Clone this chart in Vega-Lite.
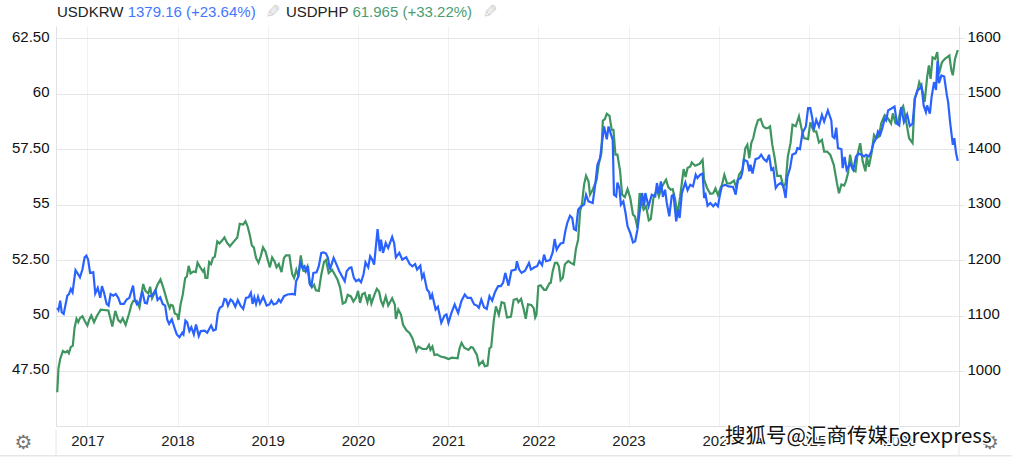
{"$schema":"https://vega.github.io/schema/vega-lite/v6.json","width":903,"height":400,"autosize":{"type":"none"},"padding":{"left":56,"top":26,"right":53,"bottom":32},"background":"white","config":{"view":{"stroke":null},"text":{"font":"Liberation Sans"},"axis":{"labelFont":"Liberation Sans","labelFontSize":15,"titleFontSize":14}},
"datasets":{"krw":[
{"date":"2016-09-01","value":1114},{"date":"2016-09-06","value":1110},{"date":"2016-09-13","value":1127},{"date":"2016-09-19","value":1106},{"date":"2016-09-27","value":1103},{"date":"2016-10-12","value":1136},{"date":"2016-10-19","value":1139},{"date":"2016-10-26","value":1148},{"date":"2016-11-02","value":1142},{"date":"2016-11-14","value":1182},{"date":"2016-11-24","value":1175},{"date":"2016-12-02","value":1169},{"date":"2016-12-12","value":1183},{"date":"2016-12-21","value":1205},{"date":"2016-12-28","value":1208},{"date":"2017-01-04","value":1201},{"date":"2017-01-12","value":1177},{"date":"2017-01-25","value":1178},{"date":"2017-02-02","value":1140},{"date":"2017-02-12","value":1150},{"date":"2017-02-22","value":1132},{"date":"2017-03-01","value":1153},{"date":"2017-03-09","value":1142},{"date":"2017-03-20","value":1121},{"date":"2017-03-28","value":1118},{"date":"2017-04-05","value":1139},{"date":"2017-04-16","value":1136},{"date":"2017-04-26","value":1139},{"date":"2017-05-06","value":1132},{"date":"2017-05-15","value":1121},{"date":"2017-05-29","value":1121},{"date":"2017-06-09","value":1129},{"date":"2017-06-20","value":1132},{"date":"2017-07-05","value":1154},{"date":"2017-07-12","value":1129},{"date":"2017-07-21","value":1120},{"date":"2017-07-31","value":1124},{"date":"2017-08-11","value":1144},{"date":"2017-08-22","value":1123},{"date":"2017-08-30","value":1122},{"date":"2017-09-06","value":1135},{"date":"2017-09-20","value":1136},{"date":"2017-10-04","value":1146},{"date":"2017-10-12","value":1128},{"date":"2017-10-23","value":1133},{"date":"2017-11-02","value":1121},{"date":"2017-11-12","value":1118},{"date":"2017-11-20","value":1093},{"date":"2017-11-28","value":1085},{"date":"2017-12-09","value":1093},{"date":"2017-12-19","value":1079},{"date":"2017-12-29","value":1066},{"date":"2018-01-09","value":1061},{"date":"2018-01-20","value":1069},{"date":"2018-01-25","value":1066},{"date":"2018-02-02","value":1091},{"date":"2018-02-09","value":1088},{"date":"2018-02-18","value":1072},{"date":"2018-02-26","value":1079},{"date":"2018-03-08","value":1066},{"date":"2018-03-17","value":1084},{"date":"2018-03-28","value":1063},{"date":"2018-04-05","value":1072},{"date":"2018-04-21","value":1073},{"date":"2018-05-01","value":1069},{"date":"2018-05-17","value":1082},{"date":"2018-05-26","value":1073},{"date":"2018-06-05","value":1075},{"date":"2018-06-13","value":1104},{"date":"2018-06-21","value":1114},{"date":"2018-07-02","value":1117},{"date":"2018-07-10","value":1130},{"date":"2018-07-17","value":1129},{"date":"2018-07-24","value":1118},{"date":"2018-08-04","value":1129},{"date":"2018-08-12","value":1126},{"date":"2018-08-23","value":1116},{"date":"2018-09-02","value":1128},{"date":"2018-09-13","value":1118},{"date":"2018-09-24","value":1112},{"date":"2018-10-05","value":1132},{"date":"2018-10-16","value":1133},{"date":"2018-10-25","value":1141},{"date":"2018-11-01","value":1121},{"date":"2018-11-08","value":1133},{"date":"2018-11-15","value":1121},{"date":"2018-11-23","value":1134},{"date":"2018-12-01","value":1122},{"date":"2018-12-14","value":1134},{"date":"2018-12-28","value":1118},{"date":"2019-01-08","value":1120},{"date":"2019-01-16","value":1127},{"date":"2019-01-25","value":1120},{"date":"2019-02-06","value":1122},{"date":"2019-02-15","value":1129},{"date":"2019-02-23","value":1124},{"date":"2019-03-08","value":1135},{"date":"2019-03-22","value":1138},{"date":"2019-04-12","value":1139},{"date":"2019-04-21","value":1138},{"date":"2019-04-26","value":1162},{"date":"2019-05-04","value":1169},{"date":"2019-05-13","value":1195},{"date":"2019-05-22","value":1186},{"date":"2019-05-30","value":1189},{"date":"2019-06-05","value":1180},{"date":"2019-06-13","value":1189},{"date":"2019-06-21","value":1156},{"date":"2019-06-27","value":1153},{"date":"2019-07-05","value":1177},{"date":"2019-07-18","value":1178},{"date":"2019-07-27","value":1189},{"date":"2019-08-06","value":1213},{"date":"2019-08-16","value":1214},{"date":"2019-08-25","value":1212},{"date":"2019-09-02","value":1204},{"date":"2019-09-10","value":1183},{"date":"2019-09-25","value":1204},{"date":"2019-10-07","value":1192},{"date":"2019-10-18","value":1180},{"date":"2019-10-29","value":1171},{"date":"2019-11-09","value":1162},{"date":"2019-11-17","value":1180},{"date":"2019-11-28","value":1186},{"date":"2019-12-06","value":1187},{"date":"2019-12-16","value":1168},{"date":"2019-12-25","value":1162},{"date":"2020-01-05","value":1165},{"date":"2020-01-14","value":1160},{"date":"2020-01-24","value":1174},{"date":"2020-02-01","value":1196},{"date":"2020-02-12","value":1187},{"date":"2020-02-20","value":1207},{"date":"2020-02-28","value":1201},{"date":"2020-03-07","value":1192},{"date":"2020-03-21","value":1256},{"date":"2020-03-30","value":1216},{"date":"2020-04-04","value":1237},{"date":"2020-04-12","value":1213},{"date":"2020-04-23","value":1231},{"date":"2020-05-03","value":1222},{"date":"2020-05-19","value":1242},{"date":"2020-05-27","value":1231},{"date":"2020-06-03","value":1205},{"date":"2020-06-17","value":1213},{"date":"2020-06-29","value":1201},{"date":"2020-07-15","value":1205},{"date":"2020-07-29","value":1193},{"date":"2020-08-09","value":1189},{"date":"2020-08-20","value":1193},{"date":"2020-08-28","value":1183},{"date":"2020-09-10","value":1190},{"date":"2020-09-17","value":1168},{"date":"2020-09-24","value":1175},{"date":"2020-10-07","value":1147},{"date":"2020-10-16","value":1142},{"date":"2020-10-21","value":1129},{"date":"2020-10-28","value":1138},{"date":"2020-11-11","value":1111},{"date":"2020-11-20","value":1116},{"date":"2020-12-04","value":1087},{"date":"2020-12-17","value":1100},{"date":"2020-12-25","value":1102},{"date":"2021-01-02","value":1087},{"date":"2021-01-14","value":1105},{"date":"2021-01-27","value":1120},{"date":"2021-02-10","value":1105},{"date":"2021-02-24","value":1127},{"date":"2021-03-09","value":1138},{"date":"2021-03-20","value":1132},{"date":"2021-04-03","value":1132},{"date":"2021-04-16","value":1120},{"date":"2021-04-27","value":1118},{"date":"2021-05-05","value":1114},{"date":"2021-05-15","value":1129},{"date":"2021-05-26","value":1115},{"date":"2021-06-06","value":1112},{"date":"2021-06-17","value":1135},{"date":"2021-06-28","value":1127},{"date":"2021-07-09","value":1142},{"date":"2021-07-22","value":1153},{"date":"2021-08-02","value":1153},{"date":"2021-08-11","value":1159},{"date":"2021-08-20","value":1177},{"date":"2021-09-02","value":1154},{"date":"2021-09-14","value":1181},{"date":"2021-10-01","value":1183},{"date":"2021-10-06","value":1198},{"date":"2021-10-15","value":1183},{"date":"2021-10-25","value":1177},{"date":"2021-11-08","value":1181},{"date":"2021-11-24","value":1195},{"date":"2021-12-02","value":1183},{"date":"2021-12-16","value":1187},{"date":"2021-12-27","value":1189},{"date":"2022-01-05","value":1198},{"date":"2022-01-16","value":1191},{"date":"2022-01-24","value":1210},{"date":"2022-02-01","value":1198},{"date":"2022-02-17","value":1200},{"date":"2022-02-28","value":1214},{"date":"2022-03-08","value":1238},{"date":"2022-03-16","value":1219},{"date":"2022-03-24","value":1225},{"date":"2022-04-01","value":1230},{"date":"2022-04-12","value":1231},{"date":"2022-04-20","value":1252},{"date":"2022-04-28","value":1267},{"date":"2022-05-09","value":1280},{"date":"2022-05-18","value":1276},{"date":"2022-05-25","value":1256},{"date":"2022-06-02","value":1254},{"date":"2022-06-11","value":1291},{"date":"2022-06-21","value":1296},{"date":"2022-07-05","value":1300},{"date":"2022-07-13","value":1318},{"date":"2022-07-23","value":1306},{"date":"2022-08-09","value":1303},{"date":"2022-08-20","value":1339},{"date":"2022-08-28","value":1372},{"date":"2022-09-08","value":1384},{"date":"2022-09-17","value":1417},{"date":"2022-09-24","value":1441},{"date":"2022-10-05","value":1418},{"date":"2022-10-12","value":1441},{"date":"2022-10-21","value":1428},{"date":"2022-10-29","value":1417},{"date":"2022-11-03","value":1318},{"date":"2022-11-12","value":1315},{"date":"2022-11-17","value":1340},{"date":"2022-11-25","value":1330},{"date":"2022-12-01","value":1300},{"date":"2022-12-11","value":1306},{"date":"2022-12-20","value":1285},{"date":"2022-12-28","value":1261},{"date":"2023-01-08","value":1249},{"date":"2023-01-19","value":1232},{"date":"2023-01-28","value":1234},{"date":"2023-02-06","value":1255},{"date":"2023-02-17","value":1294},{"date":"2023-02-25","value":1321},{"date":"2023-03-05","value":1297},{"date":"2023-03-10","value":1321},{"date":"2023-03-23","value":1297},{"date":"2023-04-05","value":1318},{"date":"2023-04-19","value":1315},{"date":"2023-04-26","value":1339},{"date":"2023-05-04","value":1320},{"date":"2023-05-12","value":1342},{"date":"2023-05-20","value":1314},{"date":"2023-05-29","value":1327},{"date":"2023-06-05","value":1303},{"date":"2023-06-15","value":1279},{"date":"2023-06-25","value":1316},{"date":"2023-07-02","value":1318},{"date":"2023-07-13","value":1270},{"date":"2023-07-21","value":1291},{"date":"2023-07-27","value":1276},{"date":"2023-08-05","value":1321},{"date":"2023-08-19","value":1340},{"date":"2023-08-28","value":1326},{"date":"2023-09-08","value":1336},{"date":"2023-09-19","value":1333},{"date":"2023-09-30","value":1354},{"date":"2023-10-07","value":1348},{"date":"2023-10-18","value":1354},{"date":"2023-10-28","value":1356},{"date":"2023-11-03","value":1312},{"date":"2023-11-09","value":1318},{"date":"2023-11-17","value":1298},{"date":"2023-11-28","value":1303},{"date":"2023-12-10","value":1297},{"date":"2023-12-19","value":1302},{"date":"2023-12-29","value":1297},{"date":"2024-01-05","value":1315},{"date":"2024-01-14","value":1333},{"date":"2024-01-27","value":1336},{"date":"2024-02-10","value":1333},{"date":"2024-02-28","value":1332},{"date":"2024-03-10","value":1318},{"date":"2024-03-18","value":1345},{"date":"2024-03-30","value":1348},{"date":"2024-04-05","value":1357},{"date":"2024-04-12","value":1381},{"date":"2024-04-26","value":1378},{"date":"2024-05-04","value":1360},{"date":"2024-05-09","value":1372},{"date":"2024-05-17","value":1356},{"date":"2024-05-29","value":1382},{"date":"2024-06-11","value":1384},{"date":"2024-06-21","value":1390},{"date":"2024-07-02","value":1382},{"date":"2024-07-13","value":1378},{"date":"2024-07-23","value":1390},{"date":"2024-08-01","value":1363},{"date":"2024-08-09","value":1366},{"date":"2024-08-19","value":1330},{"date":"2024-08-28","value":1336},{"date":"2024-09-08","value":1339},{"date":"2024-09-19","value":1333},{"date":"2024-09-28","value":1312},{"date":"2024-10-05","value":1350},{"date":"2024-10-16","value":1366},{"date":"2024-10-25","value":1390},{"date":"2024-11-08","value":1393},{"date":"2024-11-15","value":1402},{"date":"2024-11-25","value":1400},{"date":"2024-12-05","value":1429},{"date":"2024-12-19","value":1441},{"date":"2024-12-28","value":1474},{"date":"2025-01-06","value":1474},{"date":"2025-01-14","value":1456},{"date":"2025-01-20","value":1435},{"date":"2025-01-30","value":1453},{"date":"2025-02-10","value":1441},{"date":"2025-02-22","value":1462},{"date":"2025-03-03","value":1450},{"date":"2025-03-18","value":1470},{"date":"2025-04-01","value":1452},{"date":"2025-04-06","value":1423},{"date":"2025-04-14","value":1420},{"date":"2025-04-21","value":1439},{"date":"2025-04-28","value":1402},{"date":"2025-05-12","value":1400},{"date":"2025-05-17","value":1366},{"date":"2025-05-25","value":1386},{"date":"2025-06-02","value":1363},{"date":"2025-06-16","value":1374},{"date":"2025-06-29","value":1363},{"date":"2025-07-10","value":1387},{"date":"2025-07-21","value":1392},{"date":"2025-08-01","value":1390},{"date":"2025-08-12","value":1387},{"date":"2025-08-20","value":1390},{"date":"2025-08-31","value":1387},{"date":"2025-09-10","value":1396},{"date":"2025-09-19","value":1411},{"date":"2025-09-30","value":1420},{"date":"2025-10-07","value":1432},{"date":"2025-10-16","value":1426},{"date":"2025-10-24","value":1437},{"date":"2025-11-03","value":1455},{"date":"2025-11-09","value":1452},{"date":"2025-11-17","value":1470},{"date":"2025-11-29","value":1473},{"date":"2025-12-13","value":1477},{"date":"2025-12-23","value":1446},{"date":"2026-01-01","value":1443},{"date":"2026-01-09","value":1476},{"date":"2026-01-20","value":1449},{"date":"2026-02-02","value":1463},{"date":"2026-02-13","value":1442},{"date":"2026-02-24","value":1446},{"date":"2026-03-05","value":1491},{"date":"2026-03-15","value":1506},{"date":"2026-03-25","value":1509},{"date":"2026-04-01","value":1515},{"date":"2026-04-10","value":1479},{"date":"2026-04-19","value":1467},{"date":"2026-04-24","value":1479},{"date":"2026-05-05","value":1464},{"date":"2026-05-12","value":1494},{"date":"2026-05-22","value":1521},{"date":"2026-05-30","value":1507},{"date":"2026-06-05","value":1559},{"date":"2026-06-11","value":1519},{"date":"2026-06-21","value":1533},{"date":"2026-07-02","value":1531},{"date":"2026-07-13","value":1497},{"date":"2026-07-18","value":1485},{"date":"2026-07-26","value":1449},{"date":"2026-08-06","value":1408},{"date":"2026-08-12","value":1420},{"date":"2026-08-19","value":1393},{"date":"2026-08-26","value":1379}],
"php":[
{"date":"2016-09-01","value":46.54},{"date":"2016-09-06","value":47.62},{"date":"2016-09-13","value":48.04},{"date":"2016-09-24","value":48.40},{"date":"2016-10-03","value":48.34},{"date":"2016-10-12","value":48.40},{"date":"2016-10-18","value":48.30},{"date":"2016-10-26","value":48.58},{"date":"2016-11-03","value":48.64},{"date":"2016-11-10","value":49.43},{"date":"2016-11-18","value":49.85},{"date":"2016-11-25","value":49.70},{"date":"2016-12-02","value":49.88},{"date":"2016-12-12","value":49.97},{"date":"2016-12-21","value":49.76},{"date":"2017-01-01","value":49.55},{"date":"2017-01-09","value":49.82},{"date":"2017-01-17","value":50.00},{"date":"2017-01-28","value":49.70},{"date":"2017-02-08","value":49.97},{"date":"2017-02-24","value":50.26},{"date":"2017-03-27","value":50.23},{"date":"2017-04-04","value":49.88},{"date":"2017-04-12","value":49.50},{"date":"2017-04-24","value":50.21},{"date":"2017-05-06","value":49.79},{"date":"2017-05-15","value":49.70},{"date":"2017-05-24","value":49.88},{"date":"2017-06-05","value":49.58},{"date":"2017-06-19","value":50.09},{"date":"2017-06-28","value":50.48},{"date":"2017-07-06","value":50.66},{"date":"2017-07-20","value":50.66},{"date":"2017-07-31","value":50.36},{"date":"2017-08-15","value":51.42},{"date":"2017-08-24","value":51.11},{"date":"2017-09-05","value":50.99},{"date":"2017-09-12","value":51.30},{"date":"2017-09-20","value":50.78},{"date":"2017-10-01","value":51.05},{"date":"2017-10-12","value":51.39},{"date":"2017-10-24","value":51.63},{"date":"2017-11-03","value":51.30},{"date":"2017-11-13","value":50.93},{"date":"2017-11-21","value":50.60},{"date":"2017-11-30","value":50.33},{"date":"2017-12-05","value":50.48},{"date":"2017-12-13","value":50.45},{"date":"2017-12-21","value":50.09},{"date":"2017-12-31","value":50.03},{"date":"2018-01-05","value":49.80},{"date":"2018-01-13","value":50.48},{"date":"2018-01-22","value":50.93},{"date":"2018-02-01","value":51.69},{"date":"2018-02-08","value":51.76},{"date":"2018-02-15","value":52.24},{"date":"2018-02-23","value":51.90},{"date":"2018-03-07","value":51.99},{"date":"2018-03-16","value":51.96},{"date":"2018-03-23","value":52.38},{"date":"2018-04-03","value":52.17},{"date":"2018-04-14","value":51.99},{"date":"2018-04-19","value":52.08},{"date":"2018-04-24","value":51.69},{"date":"2018-05-02","value":51.69},{"date":"2018-05-09","value":52.41},{"date":"2018-05-17","value":52.32},{"date":"2018-05-24","value":52.59},{"date":"2018-06-01","value":52.65},{"date":"2018-06-11","value":53.34},{"date":"2018-06-20","value":53.25},{"date":"2018-07-02","value":53.40},{"date":"2018-07-10","value":53.52},{"date":"2018-07-21","value":53.27},{"date":"2018-08-01","value":53.12},{"date":"2018-08-15","value":53.31},{"date":"2018-08-31","value":53.52},{"date":"2018-09-10","value":54.13},{"date":"2018-09-24","value":54.10},{"date":"2018-10-03","value":54.25},{"date":"2018-10-12","value":54.01},{"date":"2018-10-21","value":53.61},{"date":"2018-10-29","value":53.16},{"date":"2018-11-06","value":53.07},{"date":"2018-11-15","value":52.59},{"date":"2018-11-25","value":52.38},{"date":"2018-12-04","value":52.67},{"date":"2018-12-13","value":53.07},{"date":"2018-12-23","value":52.89},{"date":"2019-01-01","value":52.52},{"date":"2019-01-10","value":52.17},{"date":"2019-01-19","value":52.62},{"date":"2019-01-29","value":52.44},{"date":"2019-02-06","value":52.17},{"date":"2019-02-15","value":52.32},{"date":"2019-02-26","value":51.96},{"date":"2019-03-08","value":52.59},{"date":"2019-03-16","value":52.71},{"date":"2019-03-30","value":52.71},{"date":"2019-04-10","value":51.87},{"date":"2019-04-18","value":51.69},{"date":"2019-04-27","value":52.06},{"date":"2019-05-06","value":51.76},{"date":"2019-05-15","value":52.71},{"date":"2019-05-25","value":52.02},{"date":"2019-06-02","value":51.99},{"date":"2019-06-11","value":52.21},{"date":"2019-06-20","value":51.46},{"date":"2019-06-29","value":51.27},{"date":"2019-07-08","value":51.39},{"date":"2019-07-15","value":51.14},{"date":"2019-07-27","value":51.11},{"date":"2019-08-06","value":51.84},{"date":"2019-08-17","value":52.41},{"date":"2019-08-25","value":52.50},{"date":"2019-09-05","value":51.91},{"date":"2019-09-19","value":52.06},{"date":"2019-09-30","value":51.84},{"date":"2019-10-11","value":51.61},{"date":"2019-10-21","value":51.27},{"date":"2019-11-01","value":50.54},{"date":"2019-11-12","value":50.60},{"date":"2019-11-21","value":50.93},{"date":"2019-12-04","value":50.86},{"date":"2019-12-14","value":50.63},{"date":"2019-12-25","value":50.81},{"date":"2020-01-02","value":51.11},{"date":"2020-01-10","value":50.57},{"date":"2020-01-19","value":50.96},{"date":"2020-01-29","value":51.02},{"date":"2020-02-09","value":50.60},{"date":"2020-02-17","value":50.96},{"date":"2020-02-25","value":50.54},{"date":"2020-03-08","value":50.93},{"date":"2020-03-18","value":51.20},{"date":"2020-03-27","value":51.08},{"date":"2020-04-04","value":50.66},{"date":"2020-04-12","value":50.45},{"date":"2020-04-23","value":50.86},{"date":"2020-05-03","value":50.45},{"date":"2020-05-19","value":50.78},{"date":"2020-05-30","value":50.48},{"date":"2020-06-03","value":49.85},{"date":"2020-06-13","value":50.27},{"date":"2020-06-24","value":50.03},{"date":"2020-07-02","value":49.58},{"date":"2020-07-15","value":49.35},{"date":"2020-07-29","value":49.20},{"date":"2020-08-09","value":48.98},{"date":"2020-08-20","value":48.60},{"date":"2020-08-25","value":48.40},{"date":"2020-09-02","value":48.60},{"date":"2020-09-19","value":48.49},{"date":"2020-10-05","value":48.49},{"date":"2020-10-15","value":48.67},{"date":"2020-10-21","value":48.45},{"date":"2020-10-29","value":48.60},{"date":"2020-11-06","value":48.22},{"date":"2020-11-17","value":48.25},{"date":"2020-12-01","value":48.15},{"date":"2020-12-20","value":48.10},{"date":"2021-01-02","value":48.04},{"date":"2021-01-16","value":48.10},{"date":"2021-02-08","value":48.07},{"date":"2021-02-16","value":48.52},{"date":"2021-02-24","value":48.77},{"date":"2021-03-07","value":48.55},{"date":"2021-03-24","value":48.45},{"date":"2021-04-03","value":48.58},{"date":"2021-04-11","value":48.55},{"date":"2021-04-27","value":48.22},{"date":"2021-05-06","value":47.77},{"date":"2021-05-21","value":47.95},{"date":"2021-05-29","value":47.71},{"date":"2021-06-09","value":47.74},{"date":"2021-06-17","value":48.52},{"date":"2021-06-24","value":48.58},{"date":"2021-07-04","value":49.73},{"date":"2021-07-13","value":50.41},{"date":"2021-07-25","value":50.03},{"date":"2021-08-05","value":50.60},{"date":"2021-08-16","value":50.56},{"date":"2021-08-27","value":49.91},{"date":"2021-09-12","value":49.95},{"date":"2021-09-23","value":50.71},{"date":"2021-10-06","value":50.75},{"date":"2021-10-12","value":50.60},{"date":"2021-10-23","value":50.75},{"date":"2021-11-03","value":50.26},{"date":"2021-11-11","value":49.85},{"date":"2021-11-20","value":50.51},{"date":"2021-12-03","value":50.48},{"date":"2021-12-13","value":50.33},{"date":"2021-12-19","value":49.91},{"date":"2021-12-24","value":50.03},{"date":"2022-01-01","value":51.33},{"date":"2022-01-10","value":51.36},{"date":"2022-01-24","value":51.16},{"date":"2022-02-01","value":51.16},{"date":"2022-02-15","value":51.46},{"date":"2022-02-20","value":51.47},{"date":"2022-02-28","value":52.00},{"date":"2022-03-09","value":52.37},{"date":"2022-03-18","value":52.37},{"date":"2022-03-25","value":52.22},{"date":"2022-04-01","value":51.59},{"date":"2022-04-10","value":51.70},{"date":"2022-04-18","value":52.30},{"date":"2022-05-02","value":52.46},{"date":"2022-05-12","value":52.37},{"date":"2022-05-25","value":52.30},{"date":"2022-06-02","value":53.00},{"date":"2022-06-11","value":53.42},{"date":"2022-06-19","value":54.70},{"date":"2022-06-27","value":55.07},{"date":"2022-07-05","value":55.90},{"date":"2022-07-13","value":56.30},{"date":"2022-07-23","value":56.05},{"date":"2022-07-29","value":55.45},{"date":"2022-08-09","value":55.67},{"date":"2022-08-25","value":56.12},{"date":"2022-09-02","value":56.80},{"date":"2022-09-13","value":57.32},{"date":"2022-09-19","value":58.79},{"date":"2022-09-27","value":58.85},{"date":"2022-10-05","value":59.09},{"date":"2022-10-16","value":59.00},{"date":"2022-10-25","value":58.37},{"date":"2022-11-01","value":58.37},{"date":"2022-11-09","value":57.25},{"date":"2022-11-17","value":57.25},{"date":"2022-11-28","value":56.50},{"date":"2022-12-06","value":55.45},{"date":"2022-12-17","value":55.34},{"date":"2022-12-28","value":55.70},{"date":"2023-01-08","value":55.30},{"date":"2023-01-19","value":54.55},{"date":"2023-01-27","value":54.47},{"date":"2023-02-06","value":53.95},{"date":"2023-02-15","value":55.52},{"date":"2023-02-23","value":55.07},{"date":"2023-03-03","value":54.77},{"date":"2023-03-13","value":54.92},{"date":"2023-03-24","value":54.29},{"date":"2023-04-01","value":54.35},{"date":"2023-04-12","value":55.30},{"date":"2023-04-26","value":55.67},{"date":"2023-05-04","value":55.37},{"date":"2023-05-15","value":55.79},{"date":"2023-06-02","value":56.12},{"date":"2023-06-11","value":55.79},{"date":"2023-06-21","value":55.67},{"date":"2023-06-29","value":55.70},{"date":"2023-07-09","value":55.22},{"date":"2023-07-18","value":54.55},{"date":"2023-07-29","value":55.37},{"date":"2023-08-12","value":56.60},{"date":"2023-08-20","value":56.24},{"date":"2023-08-28","value":56.65},{"date":"2023-09-08","value":56.72},{"date":"2023-09-14","value":56.90},{"date":"2023-09-28","value":56.75},{"date":"2023-10-16","value":56.84},{"date":"2023-10-28","value":57.02},{"date":"2023-11-03","value":56.12},{"date":"2023-11-15","value":55.75},{"date":"2023-11-28","value":55.49},{"date":"2023-12-10","value":55.51},{"date":"2023-12-19","value":55.73},{"date":"2023-12-29","value":55.43},{"date":"2024-01-08","value":55.73},{"date":"2024-01-14","value":55.88},{"date":"2024-01-24","value":56.34},{"date":"2024-02-04","value":55.96},{"date":"2024-02-17","value":55.96},{"date":"2024-03-03","value":56.08},{"date":"2024-03-13","value":55.73},{"date":"2024-03-23","value":56.34},{"date":"2024-04-06","value":56.56},{"date":"2024-04-18","value":57.55},{"date":"2024-04-26","value":57.70},{"date":"2024-05-04","value":57.09},{"date":"2024-05-12","value":57.77},{"date":"2024-05-20","value":58.00},{"date":"2024-05-29","value":58.45},{"date":"2024-06-08","value":58.80},{"date":"2024-06-19","value":58.86},{"date":"2024-06-29","value":58.53},{"date":"2024-07-09","value":58.45},{"date":"2024-07-18","value":58.45},{"date":"2024-07-27","value":58.53},{"date":"2024-08-05","value":57.70},{"date":"2024-08-15","value":57.09},{"date":"2024-08-25","value":56.29},{"date":"2024-09-08","value":56.29},{"date":"2024-09-19","value":55.81},{"date":"2024-09-28","value":55.96},{"date":"2024-10-07","value":57.17},{"date":"2024-10-18","value":57.77},{"date":"2024-10-26","value":58.60},{"date":"2024-11-08","value":58.53},{"date":"2024-11-21","value":58.98},{"date":"2024-12-01","value":58.45},{"date":"2024-12-11","value":58.00},{"date":"2024-12-28","value":57.95},{"date":"2025-01-06","value":58.71},{"date":"2025-01-20","value":58.30},{"date":"2025-01-30","value":58.30},{"date":"2025-02-10","value":57.80},{"date":"2025-02-22","value":57.92},{"date":"2025-03-03","value":57.39},{"date":"2025-03-15","value":57.39},{"date":"2025-03-28","value":57.24},{"date":"2025-04-11","value":56.79},{"date":"2025-04-24","value":55.96},{"date":"2025-05-02","value":55.51},{"date":"2025-05-12","value":55.91},{"date":"2025-05-23","value":55.86},{"date":"2025-05-30","value":56.05},{"date":"2025-06-08","value":56.43},{"date":"2025-06-16","value":57.25},{"date":"2025-06-27","value":56.58},{"date":"2025-07-08","value":56.50},{"date":"2025-07-16","value":57.25},{"date":"2025-07-27","value":57.77},{"date":"2025-08-06","value":56.95},{"date":"2025-08-17","value":56.50},{"date":"2025-08-23","value":57.17},{"date":"2025-08-31","value":56.70},{"date":"2025-09-10","value":57.25},{"date":"2025-09-21","value":58.14},{"date":"2025-09-30","value":57.99},{"date":"2025-10-11","value":58.07},{"date":"2025-10-20","value":58.66},{"date":"2025-11-03","value":59.03},{"date":"2025-11-16","value":58.89},{"date":"2025-11-29","value":58.66},{"date":"2025-12-06","value":59.11},{"date":"2025-12-17","value":58.66},{"date":"2025-12-27","value":58.66},{"date":"2026-01-06","value":59.26},{"date":"2026-01-17","value":59.44},{"date":"2026-01-28","value":58.81},{"date":"2026-02-10","value":57.99},{"date":"2026-02-24","value":57.77},{"date":"2026-03-05","value":59.78},{"date":"2026-03-15","value":60.08},{"date":"2026-03-23","value":60.52},{"date":"2026-04-03","value":60.23},{"date":"2026-04-14","value":59.63},{"date":"2026-04-24","value":60.75},{"date":"2026-05-01","value":61.27},{"date":"2026-05-08","value":60.67},{"date":"2026-05-16","value":61.64},{"date":"2026-05-26","value":61.57},{"date":"2026-06-04","value":61.87},{"date":"2026-06-11","value":60.90},{"date":"2026-06-23","value":61.42},{"date":"2026-07-05","value":61.57},{"date":"2026-07-23","value":61.72},{"date":"2026-07-31","value":61.05},{"date":"2026-08-06","value":60.83},{"date":"2026-08-15","value":61.57},{"date":"2026-08-26","value":61.97}]},
"encoding":{"x":{"field":"date","type":"temporal","title":null,"scale":{"domain":["2016-08-27","2026-08-31"]},"axis":{"tickCount":{"interval":"year","step":1},"format":"%Y","labelFlush":false,"labelOverlap":false,"tickSize":0,"labelPadding":7,"labelColor":"#222222","domainColor":"#dfe1e4","gridColor":"#eef1f5","grid":true}}},
"layer":[
{"encoding":{"y":{"field":"value","type":"quantitative","title":null,"scale":{"domain":[45.02,63.05]},"axis":{"orient":"left","values":[47.5,50,52.5,55,57.5,60,62.5],"labelExpr":"datum.value % 1 == 0 ? format(datum.value,'d') : format(datum.value,'.2f')","grid":true,"gridColor":"#e6e6e6","ticks":false,"labelPadding":7,"labelOffset":-2,"labelColor":"#111111","domainColor":"#dfe1e4"}}},
"layer":[
{"data":{"values":[{"date":"2016-01-12","date2":"2027-04-01","value":43.68}]},"mark":{"type":"rule","color":"#e6e6e6","strokeWidth":1.5},"encoding":{"x2":{"field":"date2"}}},
{"data":{"values":[{"date":"2016-08-27","value":44.85,"value2":43.68},{"date":"2026-08-31","value":44.85,"value2":43.68}]},"mark":{"type":"rule","color":"#e6e6e6"},"encoding":{"y2":{"field":"value2"}}},
{"data":{"name":"php"},"mark":{"type":"line","color":"#3f9560","strokeWidth":2.2,"interpolate":"linear"}},
{"data":{"values":[{"date":"2016-08-31","value":63.66,"label":"USDKRW"},{"date":"2019-03-16","value":63.66,"label":"USDPHP"}]},"mark":{"type":"text","align":"left","baseline":"middle","fontSize":15,"color":"#222222"},"encoding":{"text":{"field":"label"}}},
{"data":{"values":[{"date":"2017-06-13","value":63.66,"label":"1379.16 (+23.64%)"}]},"mark":{"type":"text","align":"left","baseline":"middle","fontSize":15,"color":"#4477ff"},"encoding":{"text":{"field":"label"}}},
{"data":{"values":[{"date":"2019-12-10","value":63.66,"label":"61.965 (+33.22%)"}]},"mark":{"type":"text","align":"left","baseline":"middle","fontSize":15,"color":"#4a9d72"},"encoding":{"text":{"field":"label"}}},
{"data":{"values":[{"date":"2019-01-15","value":63.72,"label":"✎"},{"date":"2021-06-11","value":63.72,"label":"✎"}]},"mark":{"type":"text","align":"center","baseline":"middle","font":"DejaVu Sans","fontSize":18,"angle":90,"color":"#cfcfcf"},"encoding":{"text":{"field":"label"}}},
{"data":{"values":[{"date":"2016-04-17","value":44.27,"label":"⚙"},{"date":"2027-01-03","value":44.27,"label":"⚙"}]},"mark":{"type":"text","align":"center","baseline":"middle","font":"DejaVu Sans","fontSize":20,"color":"#777777"},"encoding":{"text":{"field":"label"}}},
{"data":{"values":[{"date":"2024-01-27","value":44.54,"label":"搜狐号@汇商传媒Forexpress"}]},"mark":{"type":"text","align":"left","baseline":"middle","font":"Noto Sans CJK SC","fontSize":20.5,"stroke":"white","strokeWidth":3,"color":"white"},"encoding":{"text":{"field":"label"}}},
{"data":{"values":[{"date":"2024-01-27","value":44.54,"label":"搜狐号@汇商传媒Forexpress"}]},"mark":{"type":"text","align":"left","baseline":"middle","font":"Noto Sans CJK SC","fontSize":20.5,"color":"#111111"},"encoding":{"text":{"field":"label"}}}
]},
{"data":{"name":"krw"},"mark":{"type":"line","color":"#2962ff","strokeWidth":2.2,"interpolate":"linear"},"encoding":{"y":{"field":"value","type":"quantitative","title":null,"scale":{"domain":[900.9,1622.2]},"axis":{"orient":"right","values":[1000,1100,1200,1300,1400,1500,1600],"format":"d","grid":false,"tickSize":5,"tickColor":"#e6e6e6","labelPadding":3,"labelOffset":-2,"labelColor":"#111111","domainColor":"#dfe1e4"}}}}
],
"resolve":{"scale":{"y":"independent"}}}
